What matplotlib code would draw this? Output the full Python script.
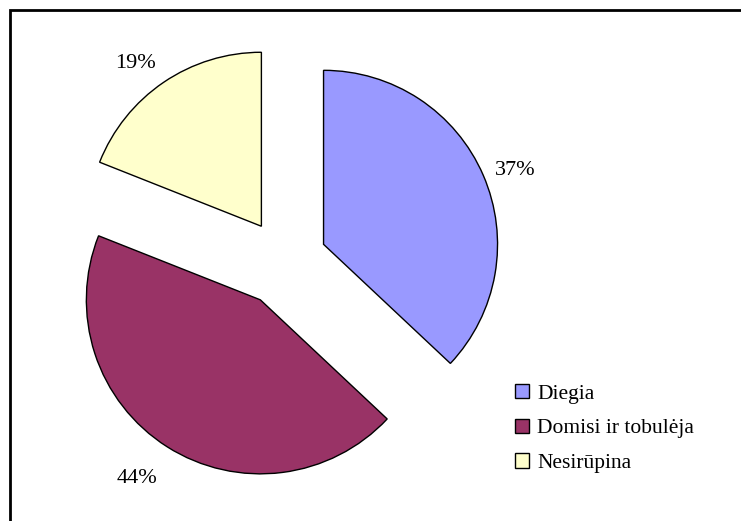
import matplotlib
matplotlib.use('Agg')
from matplotlib import pyplot as plt
from matplotlib.patches import Rectangle

# data
labels = ['Diegia', 'Domisi ir tobulėja', 'Nesirūpina']
values = [37, 44, 19]
colors = ['#9999FF', '#993366', '#FFFFCC']

W, H = 741, 521

plt.rcParams['font.family'] = ['Liberation Serif', 'DejaVu Serif']

fig = plt.figure(figsize=(W / 100, H / 100), dpi=100)
ax = fig.add_axes([0, 0, 1, 1])

# pixel-like coordinates: y goes up
pie_center = (285, H - 261)
pie_radius = 174
gaps = [42, 46, 42]

wedges, texts, autotexts = ax.pie(
    values, colors=colors, startangle=90, counterclock=False,
    center=pie_center, radius=pie_radius, explode=gaps,
    autopct='%1.0f%%', pctdistance=1.2,
    wedgeprops=dict(edgecolor='black', linewidth=1.0),
    textprops=dict(fontsize=16, color='black'))

# nudge the percentage labels a little, the way excel placed them
label_nudge = [(0, -9), (-11, -2), (-9, -10)]
for t, (dx, dy) in zip(autotexts, label_nudge):
    x, y = t.get_position()
    t.set_position((x + dx, y + dy))

ax.set_xlim(0, W)
ax.set_ylim(0, H)
ax.set_aspect('auto')
ax.axis('off')

# outer frame, only top and left edges visible
ax.add_patch(Rectangle((9.5, -20), W + 40, H - 9.5 + 20, fill=False,
                       edgecolor='black', linewidth=2))

ax.legend(wedges, labels, loc='upper left', bbox_to_anchor=(515, H - 384),
          bbox_transform=ax.transData, frameon=False, fontsize=15.5,
          borderpad=0, borderaxespad=0, handlelength=0.65, handleheight=0.65,
          handletextpad=0.37, labelspacing=0.69)

fig.savefig('out.png', dpi=100)
